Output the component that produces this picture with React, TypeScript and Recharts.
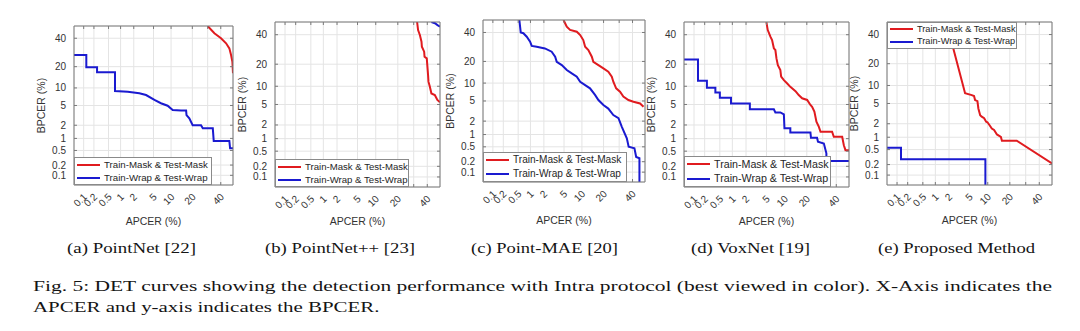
import React from 'react';
import { LineChart, Line, XAxis, YAxis, CartesianGrid, Legend } from 'recharts';

// ---------------- data (percent values) ----------------
const yTickValues = [0.1, 0.2, 0.5, 1, 2, 5, 10, 20, 40];
const xTickValues = [0.1, 0.2, 0.5, 1, 2, 5, 10, 20, 30, 40];
const xLabelValues = [0.1, 0.2, 0.5, 1, 2, 5, 10, 20, 40];
const seriesNames = ['Train-Mask & Test-Mask', 'Train-Wrap & Test-Wrap'];
const seriesColors = ['#e01b1f', '#1a1ad0'];
const xAxisTitle = 'APCER (%)';
const yAxisTitle = 'BPCER (%)';
const panelCaptions = ['(a) PointNet [22]', '(b) PointNet++ [23]', '(c) Point-MAE [20]', '(d) VoxNet [19]', '(e) Proposed Method'];
const figCaption1 = 'Fig. 5: DET curves showing the detection performance with Intra protocol (best viewed in color). X-Axis indicates the';
const figCaption2 = 'APCER and y-axis indicates the BPCER.';

// (a) PointNet
const aMaskApcer = [30, 35, 40.2, 44.3, 47, 48.4, 49.5, 50];
const aMaskBpcer = [50, 44, 40, 36, 32.2, 27.4, 23, 16.4];
const aWrapApcer = [0.05, 0.12, 0.12, 0.245, 0.245, 0.73, 0.73, 1.47, 2.63, 3.6, 5.2, 6.8, 8.8, 10.6, 14.1, 16.6, 16.8, 18.3, 20.2, 25.4, 26.6, 33.8, 34.5, 47, 47.6, 50];
const aWrapBpcer = [27.4, 27.4, 19.6, 19.6, 16.9, 16.9, 8.9, 8.7, 8.2, 7.65, 6.3, 5.5, 4.95, 4.1, 4.0, 4.0, 3.27, 2.8, 2.0, 2.0, 1.71, 1.71, 0.86, 0.86, 0.57, 0.57];

// (b) PointNet++
const bMaskApcer = [32.4, 33.1, 34.4, 35.6, 35.9, 37.6, 37.9, 39.6, 40, 40.6, 40.9, 42, 43.2, 45.9, 46.6, 47.9, 50];
const bMaskBpcer = [50, 43.6, 39.8, 34.7, 31.1, 27.7, 24.4, 23.4, 19.5, 14.5, 11.7, 9.8, 7.7, 7.25, 6.8, 6.0, 5.45];
const bWrapApcer = [43.2, 46, 48, 50];
const bWrapBpcer = [50, 49, 47.5, 46.3];

// (c) Point-MAE
const cMaskApcer = [4.9, 5.6, 6.4, 8.3, 9.4, 10.5, 11.2, 12.5, 14, 14.7, 17.2, 19.9, 22.8, 25, 26, 27.9, 30.6, 33, 36.8, 40.7, 46, 48.8];
const cMaskBpcer = [50, 44.6, 42, 40.6, 38, 34.2, 29.4, 27.1, 22.8, 19.8, 18, 16.3, 14.7, 12.5, 10.5, 8.25, 7.25, 6.0, 5.2, 4.85, 4.5, 3.9];
const cWrapApcer = [0.535, 0.58, 0.675, 0.815, 0.98, 1.07, 1.39, 2.1, 2.9, 3.4, 3.65, 4.55, 5.6, 6.85, 8.3, 9.4, 11.2, 13.2, 15.5, 17.2, 19.9, 22.8, 26, 29.5, 31.9, 35.6, 37, 41.5, 42.9, 45.5, 45.5];
const cWrapBpcer = [50, 40, 39.4, 36.7, 33, 29.9, 29.4, 28.2, 26, 22.8, 19.8, 18, 15.5, 13.9, 12.5, 10.5, 9.3, 8.25, 6.4, 5.2, 4.2, 3.6, 2.67, 2.3, 1.5, 0.81, 0.5, 0.455, 0.27, 0.25, 0.05];

// (d) VoxNet
const dMaskApcer = [4.97, 5.26, 5.85, 6.25, 6.7, 7.1, 7.4, 7.8, 8.55, 8.8, 9.7, 10.9, 12.1, 14.3, 15.8, 17.5, 20.2, 22.1, 23.1, 24.5, 25.8, 27.4, 28.5, 36.8, 38.1, 44.6, 45.9, 47.2, 50];
const dMaskBpcer = [50, 43.6, 38.5, 36, 30, 28.8, 23.4, 19.5, 16.9, 13.8, 12.3, 11, 9.8, 8.4, 7.25, 6.4, 6.0, 4.9, 4.55, 3.7, 2.33, 1.83, 1.43, 1.43, 1.1, 1.1, 0.7, 0.53, 0.53];
const dWrapApcer = [0.05, 0.13, 0.13, 0.23, 0.23, 0.385, 0.385, 0.5, 0.5, 0.93, 0.93, 2.4, 2.4, 6.7, 7.1, 8.55, 9.7, 9.9, 12.1, 12.1, 22.1, 22.4, 26.2, 26.8, 30.8, 32.6, 32.6, 50];
const dWrapBpcer = [22.8, 22.8, 12.1, 12.1, 9.5, 9.5, 8.0, 8.0, 6.55, 6.55, 5.2, 5.2, 4.1, 4.1, 3.57, 3.57, 3.27, 1.7, 1.7, 1.38, 1.38, 1.05, 1.05, 0.845, 0.77, 0.44, 0.28, 0.28];

// (e) Proposed Method
const eMaskApcer = [1.75, 2.4, 4.15, 5.48, 6.0, 6.25, 6.85, 7.1, 7.6, 8.05, 8.8, 9.45, 9.9, 10.6, 11.5, 12.4, 13.6, 15.4, 15.9, 24.1, 50];
const eMaskBpcer = [50, 30.9, 7.5, 7.0, 6.75, 5.75, 5.5, 4.05, 3.0, 2.8, 2.6, 2.2, 2.15, 1.88, 1.58, 1.46, 1.16, 1.02, 0.83, 0.83, 0.215];
const eWrapApcer = [0.05, 0.13, 0.13, 9.2, 9.2];
const eWrapBpcer = [0.56, 0.56, 0.28, 0.28, 0.05];

// ---------------- probit (normal deviate) transform ----------------
function probit(p: number): number {
  const a = [-3.969683028665376e1, 2.209460984245205e2, -2.759285104469687e2, 1.38357751867269e2, -3.066479806614716e1, 2.506628277459239];
  const b = [-5.447609879822406e1, 1.615858368580409e2, -1.556989798598866e2, 6.680131188771972e1, -1.328068155288572e1];
  const c = [-7.784894002430293e-3, -3.223964580411365e-1, -2.400758277161838, -2.549732539343734, 4.374664141464968, 2.938163982698783];
  const d = [7.784695709041462e-3, 3.224671290700398e-1, 2.445134137142996, 3.754408661907416];
  const pl = 0.02425;
  if (p < pl) {
    const q = Math.sqrt(-2 * Math.log(p));
    return (((((c[0] * q + c[1]) * q + c[2]) * q + c[3]) * q + c[4]) * q + c[5]) / ((((d[0] * q + d[1]) * q + d[2]) * q + d[3]) * q + 1);
  }
  if (p <= 1 - pl) {
    const q = p - 0.5;
    const r = q * q;
    return ((((((a[0] * r + a[1]) * r + a[2]) * r + a[3]) * r + a[4]) * r + a[5]) * q) / (((((b[0] * r + b[1]) * r + b[2]) * r + b[3]) * r + b[4]) * r + 1);
  }
  const q = Math.sqrt(-2 * Math.log(1 - p));
  return -(((((c[0] * q + c[1]) * q + c[2]) * q + c[3]) * q + c[4]) * q + c[5]) / ((((d[0] * q + d[1]) * q + d[2]) * q + d[3]) * q + 1);
}
const P = (v: number) => (v >= 50 ? 0 : probit(v / 100));
const LO = probit(0.0005);
const HI = 0;

function rows(apcer: number[], bpcer: number[]) {
  return apcer.map((v, i) => ({ apcer: v, bpcer: bpcer[i], x: P(v), y: P(bpcer[i]) }));
}

const xTicks = xTickValues.map(P);
const yTicks = yTickValues.map(P);
function labelOf(v: number, list: number[]): string | null {
  for (const t of list) if (Math.abs(P(t) - v) < 1e-6) return String(t);
  return null;
}

// ---------------- styling ----------------
const FONT = "'Liberation Sans', Arial, Helvetica, sans-serif";
const SERIF = "'Liberation Serif', 'Times New Roman', serif";
const BOX = '#7a7a7a';
const TXT = '#333333';
const GRID = '#e4e4e4';

const BottomTick = (props: any) => {
  const { x, y, payload } = props;
  const lab = labelOf(payload.value, xLabelValues);
  const ax = x + 4;
  const ay = y + 12.5;
  return (
    <g>
      <line x1={x} y1={y} x2={x} y2={y - 3} stroke={BOX} strokeWidth={1} />
      {lab !== null && (
        <text x={ax} y={ay} transform={`rotate(-45 ${ax} ${ay})`} textAnchor="end" fontSize={10} fill={TXT} fontFamily={FONT}>
          {lab}
        </text>
      )}
    </g>
  );
};
const TopTick = (props: any) => {
  const { x, y } = props;
  return <line x1={x} y1={y} x2={x} y2={y + 3} stroke={BOX} strokeWidth={1} />;
};
const LeftTick = (props: any) => {
  const { x, y, payload } = props;
  const lab = labelOf(payload.value, yTickValues);
  return (
    <g>
      <line x1={x} y1={y} x2={x + 3} y2={y} stroke={BOX} strokeWidth={1} />
      <text x={x - 8} y={y} textAnchor="end" dominantBaseline="central" fontSize={10} fill={TXT} fontFamily={FONT}>
        {lab}
      </text>
    </g>
  );
};
const RightTick = (props: any) => {
  const { x, y } = props;
  return <line x1={x} y1={y} x2={x - 3} y2={y} stroke={BOX} strokeWidth={1} />;
};

type PanelCfg = { px: number; py: number; w: number; h: number; lw: number; lh: number; fs: number; legendTop: boolean; xTitleDy: number };
const panels: PanelCfg[] = [
  { px: 74, py: 26, w: 159, h: 159, lw: 138, lh: 28, fs: 9.7, legendTop: false, xTitleDy: 36 },
  { px: 275, py: 22, w: 165, h: 165, lw: 134, lh: 28, fs: 9.6, legendTop: false, xTitleDy: 34 },
  { px: 483, py: 20, w: 162, h: 162, lw: 144, lh: 30, fs: 10.1, legendTop: false, xTitleDy: 38 },
  { px: 684, py: 22, w: 165, h: 165, lw: 147, lh: 31, fs: 10.7, legendTop: false, xTitleDy: 34 },
  { px: 887, py: 22, w: 165, h: 163, lw: 130, lh: 27, fs: 9.2, legendTop: true, xTitleDy: 35 },
];
const panelData = [
  [rows(aMaskApcer, aMaskBpcer), rows(aWrapApcer, aWrapBpcer)],
  [rows(bMaskApcer, bMaskBpcer), rows(bWrapApcer, bWrapBpcer)],
  [rows(cMaskApcer, cMaskBpcer), rows(cWrapApcer, cWrapBpcer)],
  [rows(dMaskApcer, dMaskBpcer), rows(dWrapApcer, dWrapBpcer)],
  [rows(eMaskApcer, eMaskBpcer), rows(eWrapApcer, eWrapBpcer)],
];
const captionLayout = [
  { x: 67, len: 129 },
  { x: 265, len: 150 },
  { x: 471, len: 147 },
  { x: 691, len: 119 },
  { x: 878, len: 157 },
];

const makeLegend = (lw: number, lh: number, fs: number) => (props: any) => {
  const items: any[] = props.payload || [];
  const rowH = (lh - 2) / 2;
  return (
    <div style={{ width: lw, height: lh, boxSizing: 'border-box', border: '1px solid #8a8a8a', background: '#ffffff' }}>
      {items.map((it: any, i: number) => (
        <div key={i} style={{ display: 'flex', alignItems: 'center', height: rowH, whiteSpace: 'nowrap' }}>
          <svg width={29} height={4} style={{ flex: 'none', display: 'block' }}>
            <line x1={2} y1={2} x2={25} y2={2} stroke={it.color} strokeWidth={2} />
          </svg>
          <span style={{ fontSize: fs, color: '#262626', lineHeight: 1, fontFamily: FONT }}>{it.value}</span>
        </div>
      ))}
    </div>
  );
};

function DetPanel({ cfg, data }: { cfg: PanelCfg; data: any[][] }) {
  const { px, py, w, h, lw, lh, fs, legendTop, xTitleDy } = cfg;
  const L = 50, T = 10, R = 10, B = 50;
  const W = w + L + R;
  const H = h + T + B;
  const xTitle = () => (
    <text x={L + w / 2} y={T + h + xTitleDy} textAnchor="middle" dominantBaseline="central" fontSize={10.5} fill={TXT} fontFamily={FONT}>
      {xAxisTitle}
    </text>
  );
  const yTitle = () => (
    <text transform={`translate(${L - 33} ${T + h / 2}) rotate(-90)`} textAnchor="middle" dominantBaseline="central" fontSize={10.5} fill={TXT} fontFamily={FONT}>
      {yAxisTitle}
    </text>
  );
  return (
    <div style={{ position: 'absolute', left: px - L, top: py - T }}>
      <LineChart width={W} height={H} margin={{ top: 0, right: 0, bottom: 0, left: 0 }}>
        <CartesianGrid stroke={GRID} strokeWidth={1} xAxisId={0} yAxisId={0} />
        <XAxis xAxisId={0} orientation="bottom" type="number" dataKey="x" domain={[LO, HI]} allowDataOverflow ticks={xTicks} interval={0} height={B} tickSize={0} tickMargin={0} tickLine={false} axisLine={{ stroke: BOX }} tick={<BottomTick />} label={xTitle} />
        <XAxis xAxisId={1} orientation="top" type="number" dataKey="x" domain={[LO, HI]} allowDataOverflow ticks={xTicks} interval={0} height={T} tickSize={0} tickMargin={0} tickLine={false} axisLine={{ stroke: BOX }} tick={<TopTick />} />
        <YAxis yAxisId={0} orientation="left" type="number" dataKey="y" domain={[LO, HI]} allowDataOverflow ticks={yTicks} interval={0} width={L} tickSize={0} tickMargin={0} tickLine={false} axisLine={{ stroke: BOX }} tick={<LeftTick />} label={yTitle} />
        <YAxis yAxisId={1} orientation="right" type="number" dataKey="y" domain={[LO, HI]} allowDataOverflow ticks={yTicks} interval={0} width={R} tickSize={0} tickMargin={0} tickLine={false} axisLine={{ stroke: BOX }} tick={<RightTick />} />
        {data.map((series, i) => (
          <Line key={i} xAxisId={0} yAxisId={0} data={series} dataKey="y" name={seriesNames[i]} type="linear" stroke={seriesColors[i]} strokeWidth={2} dot={false} activeDot={false} isAnimationActive={false} />
        ))}
        <Legend layout="vertical" align="center" verticalAlign="middle" wrapperStyle={{ left: L, top: legendTop ? T : T + h - lh, width: lw, height: lh }} content={makeLegend(lw, lh, fs)} />
      </LineChart>
    </div>
  );
}

export default function App() {
  return (
    <div style={{ position: 'absolute', left: 0, top: 0, width: 1080, height: 331, background: '#ffffff', overflow: 'hidden' }}>
      <svg width={1080} height={331} style={{ position: 'absolute', left: 0, top: 0 }}>
        {panelCaptions.map((t, i) => (
          <text key={i} x={captionLayout[i].x} y={253} textLength={captionLayout[i].len} lengthAdjust="spacingAndGlyphs" fontSize={14.5} fontFamily={SERIF} fill="#141414">
            {t}
          </text>
        ))}
        <text x={33} y={291} textLength={1019} lengthAdjust="spacingAndGlyphs" fontSize={14.5} fontFamily={SERIF} fill="#141414">
          {figCaption1}
        </text>
        <text x={33} y={312} textLength={346.5} lengthAdjust="spacingAndGlyphs" fontSize={14.5} fontFamily={SERIF} fill="#141414">
          {figCaption2}
        </text>
      </svg>
      {panels.map((cfg, i) => (
        <DetPanel key={i} cfg={cfg} data={panelData[i]} />
      ))}
    </div>
  );
}
